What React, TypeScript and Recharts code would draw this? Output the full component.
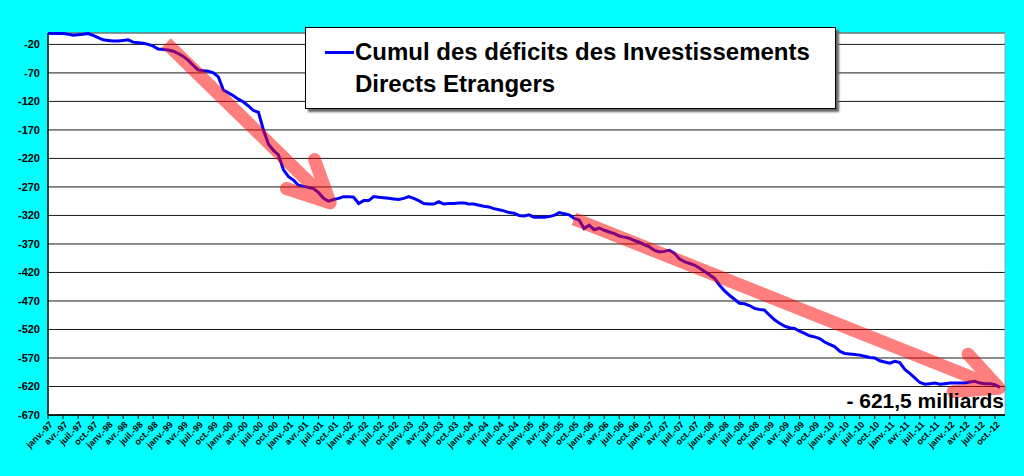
import React from "react";
import {
  LineChart,
  Line,
  XAxis,
  YAxis,
  CartesianGrid,
  ReferenceLine,
} from "recharts";

const months = ["janv.", "févr.", "mars", "avr.", "mai", "juin", "juil.", "août", "sept.", "oct.", "nov.", "déc."];
const years = ["97", "98", "99", "00", "01", "02", "03", "04", "05", "06", "07", "08", "09", "10", "11", "12"];

// cumul mensuel, janv.-97 -> nov.-12 (milliards)
const cumulDeficits = [
  -1, -1, -1, -1, -2, -4, -3, -2, -1, -4, -8, -12,
  -13, -14, -14, -13, -12, -16, -17, -18, -20, -23, -28, -29,
  -30, -32, -36, -41, -48, -57, -65, -66, -67, -70, -77, -100,
  -105, -110, -116, -121, -128, -136, -139, -170, -195, -206, -214, -240,
  -252, -258, -267, -269, -271, -273, -280, -290, -295, -292, -290, -287,
  -287, -288, -299, -294, -294, -287, -288, -289, -290, -291, -292, -290,
  -287, -290, -294, -299, -300, -300, -296, -300, -299, -299, -298, -298,
  -300, -300, -302, -304, -305, -308, -310, -312, -315, -316, -320, -321,
  -319, -323, -323, -323, -322, -320, -315, -317, -319, -325, -328, -343,
  -337, -345, -342, -346, -349, -352, -356, -358, -360, -364, -367, -371,
  -375, -381, -384, -383, -381, -386, -396, -401, -404, -407, -412, -418,
  -424, -430, -442, -452, -460, -467, -474, -475, -478, -483, -485, -486,
  -495, -503, -509, -514, -517, -518, -523, -527, -531, -533, -536, -542,
  -546, -550, -558, -562, -563, -564, -565, -567, -569, -570, -575, -577,
  -579, -576, -578, -590, -597, -605, -613, -616, -615, -614, -616, -615,
  -614, -614, -614, -614, -612, -611, -614, -615, -615, -617, -621.5,
];

const yTicks = [-20, -70, -120, -170, -220, -270, -320, -370, -420, -470, -520, -570, -620, -670];

const seriesName = ["Cumul des déficits des Investissements", "Directs Etrangers"];

// flèches rouges : [début, pointe] en (mois, valeur)
const arrows = [
  [{ x: 23.6, y: -17.5 }, { x: 56.3, y: -298 }],
  [{ x: 105, y: -326 }, { x: 189.8, y: -623 }],
];

const monthLabel = (i: number) => `${months[i % 12]}-${years[Math.floor(i / 12)]}`;
const data = cumulDeficits.map((v, i) => ({ idx: i, label: monthLabel(i), cumul: v }));
const xTicks = data.filter((d) => d.idx % 3 === 0).map((d) => d.idx);

const FONT = "'Liberation Sans', Arial, sans-serif";

function XTick(props: any) {
  const { x, y, payload } = props;
  return (
    <text
      transform={`translate(${x + 3},${y + 2}) rotate(-45)`}
      textAnchor="end"
      dy="0.35em"
      fontSize={9}
      fontWeight="bold"
      fontFamily={FONT}
      fill="#000"
    >
      {monthLabel(payload.value)}
    </text>
  );
}

function Arrow(props: any) {
  const { x1, y1, x2, y2 } = props;
  const a = Math.atan2(y2 - y1, x2 - x1);
  const len = 46;
  const s = (26 * Math.PI) / 180;
  const hx1 = x2 - len * Math.cos(a - s);
  const hy1 = y2 - len * Math.sin(a - s);
  const hx2 = x2 - len * Math.cos(a + s);
  const hy2 = y2 - len * Math.sin(a + s);
  return (
    <g opacity={0.5}>
      <path d={`M${x1},${y1}L${x2},${y2}`} stroke="#ff0000" strokeWidth={13} fill="none" />
      <path
        d={`M${hx1},${hy1}L${x2},${y2}L${hx2},${hy2}`}
        stroke="#ff0000"
        strokeWidth={13}
        strokeLinecap="round"
        strokeLinejoin="round"
        fill="none"
      />
    </g>
  );
}

export default function App() {
  return (
    <div style={{ position: "absolute", left: 0, top: 0, width: 1024, height: 476, background: "#00ffff" }}>
      <LineChart width={1024} height={476} data={data} margin={{ top: 33, right: 19, bottom: 0, left: 0 }}>
        <CartesianGrid vertical={false} stroke="#1a1a1a" fill="#ffffff" />
        <XAxis
          dataKey="idx"
          type="number"
          domain={[0, 191]}
          ticks={xTicks}
          interval={0}
          height={61}
          tick={<XTick />}
          tickSize={4}
          tickLine={{ stroke: "#000" }}
          axisLine={{ stroke: "#000", strokeWidth: 1.5 }}
        />
        <YAxis
          domain={[-670, 0]}
          ticks={yTicks}
          interval={0}
          width={48}
          tickLine={false}
          tickSize={6}
          tickMargin={2}
          axisLine={{ stroke: "#000", strokeWidth: 1.5 }}
          tick={{ fontSize: 11, fontWeight: "bold", fill: "#000", fontFamily: FONT }}
        />
        <ReferenceLine y={0} stroke="#a0a0a0" />
        <ReferenceLine x={191} stroke="#a0a0a0" />
        <Line
          type="linear"
          dataKey="cumul"
          name={seriesName.join(" ")}
          stroke="#0000ff"
          strokeWidth={3}
          dot={false}
          isAnimationActive={false}
        />
        {arrows.map((seg, k) => (
          <ReferenceLine key={k} segment={seg} shape={<Arrow />} />
        ))}
      </LineChart>

      {/* légende (cadre blanc avec ombre) */}
      <div
        style={{
          position: "absolute",
          left: 305,
          top: 27,
          width: 529,
          height: 80,
          background: "#fff",
          border: "1px solid #000",
          boxShadow: "3px 3px 2px #666",
          fontFamily: FONT,
          fontWeight: "bold",
          fontSize: 24,
          lineHeight: "32px",
          color: "#000",
        }}
      >
        <div style={{ position: "absolute", left: 19, top: 23, width: 29, height: 3, background: "#0000ff" }} />
        <div style={{ position: "absolute", left: 49, top: 8, whiteSpace: "nowrap" }}>
          {seriesName[0]}
          <br />
          {seriesName[1]}
        </div>
      </div>

      <div
        style={{
          position: "absolute",
          right: 20,
          top: 389,
          fontFamily: FONT,
          fontWeight: "bold",
          fontSize: 21,
          color: "#000",
          whiteSpace: "nowrap",
        }}
      >
        - 621,5 milliards
      </div>
    </div>
  );
}
